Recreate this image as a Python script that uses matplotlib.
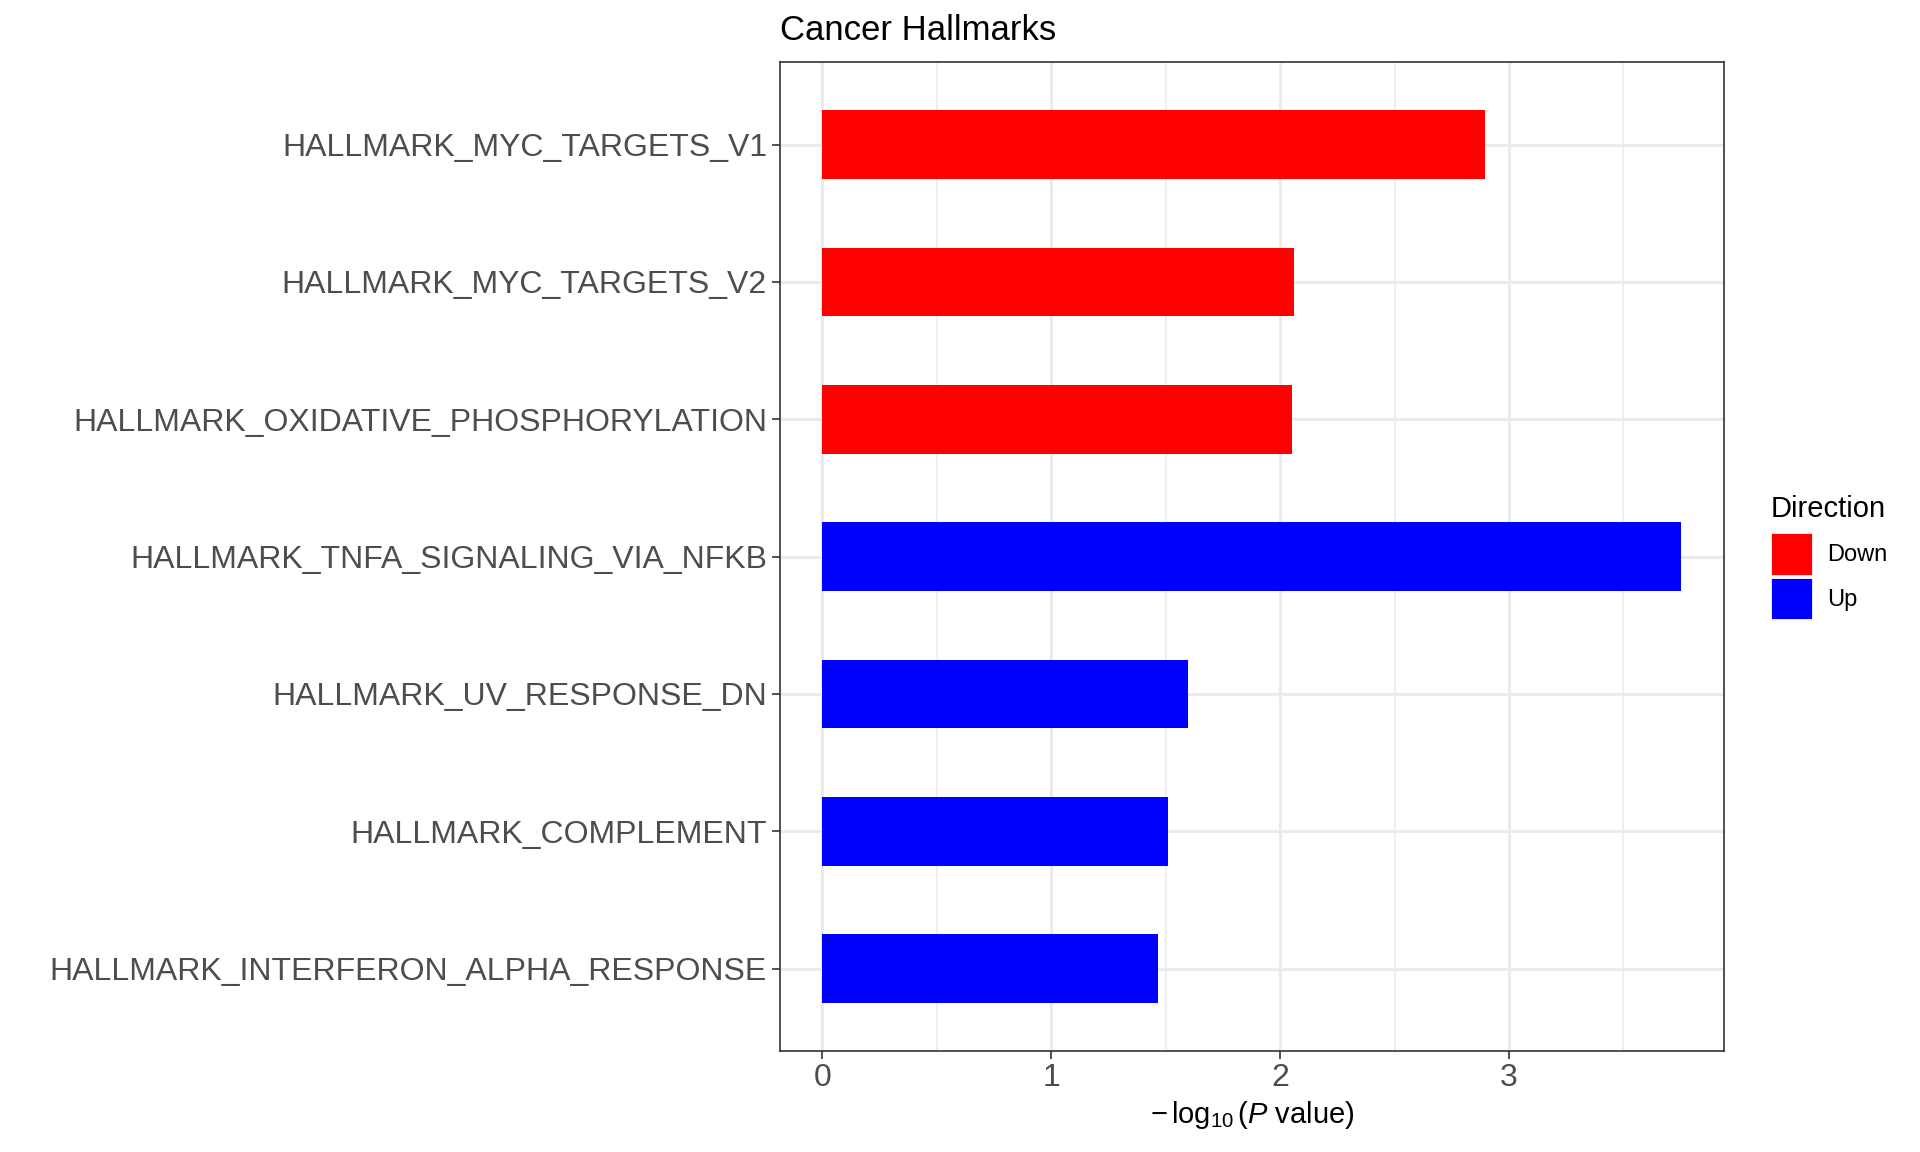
import matplotlib
matplotlib.use('Agg')
import matplotlib.pyplot as plt
from matplotlib.patches import Patch

plt.rcParams['font.family'] = ['Liberation Sans', 'DejaVu Sans']
plt.rcParams['mathtext.fontset'] = 'custom'
plt.rcParams['mathtext.rm'] = 'Liberation Sans'
plt.rcParams['mathtext.it'] = 'Liberation Sans:italic'

pathways = [
    'HALLMARK_MYC_TARGETS_V1',
    'HALLMARK_MYC_TARGETS_V2',
    'HALLMARK_OXIDATIVE_PHOSPHORYLATION',
    'HALLMARK_TNFA_SIGNALING_VIA_NFKB',
    'HALLMARK_UV_RESPONSE_DN',
    'HALLMARK_COMPLEMENT',
    'HALLMARK_INTERFERON_ALPHA_RESPONSE',
]
neg_log_p = [2.894, 2.061, 2.050, 3.753, 1.596, 1.511, 1.468]
direction = ['Down', 'Down', 'Down', 'Up', 'Up', 'Up', 'Up']
dir_colors = {'Down': '#FF0000', 'Up': '#0000FF'}

fig = plt.figure(figsize=(19.2, 11.52), dpi=100)
ax = fig.add_axes([0.406, 0.0877, 0.492, 0.8583])

ypos = list(range(len(pathways)))[::-1]
ax.barh(ypos, neg_log_p, height=0.5, color=[dir_colors[d] for d in direction], zorder=3)

xmax = max(neg_log_p)
ax.set_xlim(-0.05 * xmax, xmax * 1.05)
ax.set_ylim(-0.6, len(pathways) - 0.4)
ax.set_yticks(ypos)
ax.set_yticklabels(pathways)
ax.set_xticks([0, 1, 2, 3])
ax.set_xticks([0.5, 1.5, 2.5, 3.5], minor=True)

ax.grid(which='major', color='#EBEBEB', linewidth=2.2, zorder=0)
ax.grid(which='minor', axis='x', color='#EBEBEB', linewidth=1.1, zorder=0)
ax.set_axisbelow(True)
for s in ax.spines.values():
    s.set_color('#333333')
    s.set_linewidth(1.2)

ax.tick_params(axis='both', which='major', length=6, width=1.2, color='#333333',
               labelcolor='#4D4D4D', labelsize=23, pad=3)
ax.tick_params(axis='x', which='minor', length=0)

ax.set_xlabel(r'$-\,\log_{10}(P$ value)', fontsize=21, color='black', labelpad=4)
ax.set_title('Cancer Hallmarks', loc='left', fontsize=25, color='black', pad=16)

handles = [Patch(facecolor=dir_colors[k], edgecolor='white', linewidth=2.0, label=k)
           for k in ['Down', 'Up']]
leg = fig.legend(handles=handles, title='Direction', loc='upper left',
                 bbox_to_anchor=(0.9135, 0.585), frameon=False, fontsize=17,
                 title_fontsize=21, handlelength=1.8, handleheight=2.45,
                 handletextpad=0.6, labelspacing=0.05, borderpad=0.2)
leg._legend_box.align = 'left'
leg._legend_box.sep = 7

fig.savefig('out.png', dpi=100)
